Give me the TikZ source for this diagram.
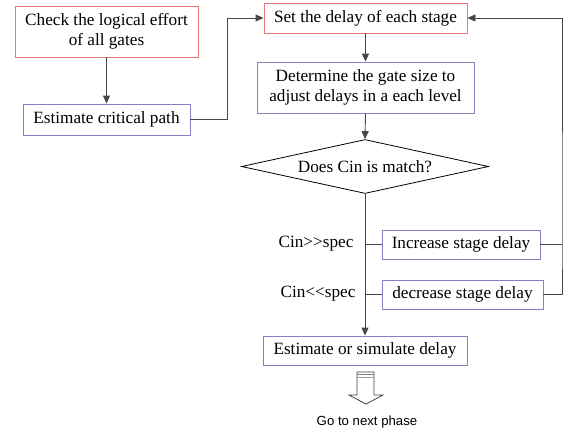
\documentclass[tikz,border=0pt]{standalone}
\usepackage{fontspec}
\setmainfont{Liberation Serif}
\newfontfamily\arialfont{Liberation Sans}
\usetikzlibrary{shapes.geometric,arrows.meta}
\definecolor{redb}{RGB}{228,120,120}
\definecolor{blueb}{RGB}{130,130,195}
\definecolor{linec}{RGB}{70,70,70}
\tikzset{
  box/.style={draw, line width=0.9pt, inner sep=0pt, align=center, font=\fontsize{17.2}{20}\selectfont},
  redbox/.style={box, draw=redb},
  bluebox/.style={box, draw=blueb},
  conn/.style={draw=linec, line width=0.9pt},
  arr/.style={conn, -{Triangle[length=8pt,width=7pt]}},
  lbl/.style={font=\fontsize{17.2}{20}\selectfont, inner sep=0pt}
}
\begin{document}
\begin{tikzpicture}[x=1pt,y=-1pt]
\useasboundingbox (0,0) rectangle (563,432);
\node[redbox, minimum width=183pt, minimum height=51pt] (b1) at (106.5,31.5) {Check the logical effort\\of all gates};
\node[bluebox, minimum width=167pt, minimum height=31pt] (b2) at (106.5,119.5) {Estimate critical path};
\node[redbox, minimum width=203pt, minimum height=30pt] (b3) at (365.5,18) {Set the delay of each stage};
\node[bluebox, minimum width=217pt, minimum height=51pt] (b4) at (365.5,87.5) {Determine the gate size to\\adjust delays in a each level};
\node[box, draw=black, line width=0.8pt, shape=diamond, aspect=4.5, minimum width=247pt, minimum height=54pt] (dia) at (365,166.5) {Does Cin is match?};
\node[bluebox, minimum width=158pt, minimum height=29pt] (inc) at (461,244.5) {Increase stage delay};
\node[bluebox, minimum width=161pt, minimum height=29pt] (dec) at (462.5,294.5) {decrease stage delay};
\node[bluebox, minimum width=204pt, minimum height=29pt] (est) at (365,350.5) {Estimate or simulate delay};
\node[lbl] (l1) at (316,244) {Cin>{}>spec};
\node[lbl] (l2) at (318,294) {Cin<{}<spec};
\node[inner sep=0pt, font=\arialfont\fontsize{13.2}{15}\selectfont] (go) at (367,422) {Go to next phase};
\coordinate (k) at (227,119.5);
\coordinate (r) at (562,244.5);
% connectors
\draw[arr] (b1.south) -- (b2.north);
\draw[arr] (b2.east) -- (k) |- (b3.west);
\draw[arr] (b3.south) -- (b4.north);
\draw[arr] (b4.south) -- (dia.north);
\draw[arr] (dia.south) -- (est.north);
\draw[conn] (dia.south |- inc.west) -- (inc.west);
\draw[conn] (dia.south |- dec.west) -- (dec.west);
\draw[conn] (inc.east) -- (inc.east -| r);
\draw[arr] (dec.east) -| (r) |- (b3.east);
% hollow arrow
\draw[line width=0.8pt, draw=black!75] (357,372) -- (374,372) -- (374,395) -- (383,395) -- (366,404) -- (349,395) -- (357,395) -- cycle;
\draw[line width=0.8pt, draw=black!50] (357,374.5) -- (374,374.5);
\draw[line width=0.8pt, draw=black!40] (357,377) -- (374,377);
\end{tikzpicture}
\end{document}
